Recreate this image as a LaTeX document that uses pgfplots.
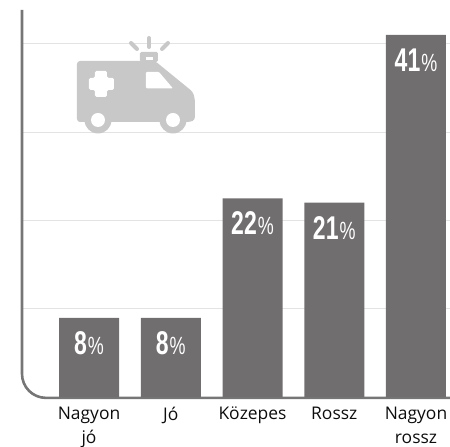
\documentclass[border=0pt]{standalone}
\usepackage{pgfplots}
\pgfplotsset{compat=1.18}
\usepackage{fontspec}
\setmainfont{Open Sans}
\newfontfamily\numfont{Liberation Sans}
\definecolor{barc}{HTML}{716E6F}
\definecolor{axc}{HTML}{767676}
\definecolor{gridc}{HTML}{E3E3E3}
\definecolor{icon}{HTML}{C8C8C8}
\newcommand{\pct}[1]{{\color{white}\scalebox{0.7}[1]{\numfont\bfseries\fontsize{33}{33}\selectfont #1}\hspace{1bp}\scalebox{0.72}[1]{\numfont\fontsize{25}{25}\selectfont\%}}}
\begin{document}
\begin{tikzpicture}
\path[use as bounding box] (-22bp,-50bp) rectangle (428bp,397bp);
\begin{axis}[
  scale only axis, width=428bp, height=387bp,
  xmin=-0.82, xmax=4.416, ymin=0, ymax=43.83,
  clip=false,
  axis x line*=bottom, axis y line*=left,
  axis line style={draw=none},
  ytick={10,20,30,40}, yticklabels={},
  xtick={0,1,2,3,4},
  xticklabels={{Nagyon\\jó},{Jó},{Közepes},{Rossz},{Nagyon\\rossz}},
  x tick label style={align=center, font=\fontsize{17.5}{24}\selectfont, text=black!95, yshift=-8bp, inner sep=2bp},
  major tick length=0pt,
  ymajorgrids, major grid style={gridc, line width=1.2bp},
]
\addplot[axc, line width=2.6bp, rounded corners=24bp, forget plot] coordinates {(-0.82,43.83) (-0.82,-0.1) (4.416,-0.1)};
\addplot[ybar, bar width=60bp, bar shift=0pt, fill=barc, draw=none,
  point meta=explicit symbolic,
  nodes near coords={\pct{\pgfplotspointmeta}},
  nodes near coords align={below},
  every node near coord/.append style={yshift=-11.5bp, inner sep=2bp}]
  coordinates {(0,8.95)[8] (1,8.95)[8] (2,22.5)[22] (3,22.0)[21] (4,41.0)[41]};
\end{axis}
\begin{scope}[shift={(-22bp,397bp)}, x=1bp, y=-1bp]
  % ambulance pictogram
  \fill[icon, rounded corners=3bp] (77,122) -- (77,61) -- (155,61) -- (193,92) -- (195,100) -- (195,120) -- (190,122) -- cycle;
  \fill[icon, rounded corners=1.5bp] (140,62) rectangle (158,52);
  \fill[white] (146,60.5) rectangle (153,57);
  \fill[icon] (98,120) circle (13.5);
  \fill[icon] (173,120) circle (13.5);
  \fill[white] (98,120) circle (7);
  \fill[white] (173,120) circle (7);
  \fill[white, rounded corners=1.5bp] (89,78) -- (95,78) -- (95,71) -- (107,71) -- (107,78) -- (114,78) -- (114,90) -- (107,90) -- (107,97) -- (95,97) -- (95,90) -- (89,90) -- cycle;
  \fill[white, rounded corners=1bp] (146,72) -- (159,72) -- (173,88.5) -- (146,88.5) -- cycle;
  \draw[icon, line width=4bp, line cap=round] (149,38) -- (149,47);
  \draw[icon, line width=4bp, line cap=round] (131,43) -- (137,49);
  \draw[icon, line width=4bp, line cap=round] (168,43) -- (162,49);
\end{scope}
\end{tikzpicture}
\end{document}
